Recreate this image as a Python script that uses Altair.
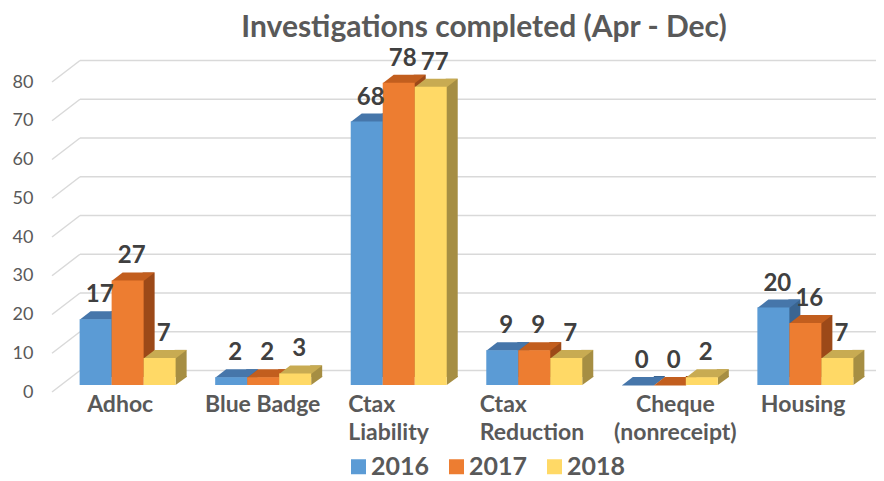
import json
import altair as alt
import pandas as pd

# ---------------- data ----------------
categories = ["Adhoc", "Blue Badge", "Ctax Liability", "Ctax Reduction",
              "Cheque (nonreceipt)", "Housing"]
years = ["2016", "2017", "2018"]
values_2016 = [17, 2, 68, 9, 0, 20]
values_2017 = [27, 2, 78, 9, 0, 16]
values_2018 = [7, 3, 77, 7, 2, 7]
y_ticks = [0, 10, 20, 30, 40, 50, 60, 70, 80]
wrapped_labels = ["Ctax Liability", "Ctax Reduction", "Cheque (nonreceipt)"]
centered_labels = ["Blue Badge", "Cheque (nonreceipt)"]

# ---------------- styles ----------------
front_colors = ["#5B9BD5", "#ED7D31", "#FFD966"]
top_colors = ["#4676AA", "#C25E1E", "#C8AB52"]
side_colors = ["#3A6591", "#9C4918", "#A68E43"]
GRID = "#D9D9D9"
TEXT = "#595959"
FONT = "Lato"
# horizontal nudge (px) of each category label from its band centre
label_nudge = {"Adhoc": -31, "Blue Badge": 9, "Ctax Liability": -41,
               "Ctax Reduction": -45, "Cheque (nonreceipt)": 15, "Housing": -35}

rows = []
for cat, a, b, c in zip(categories, values_2016, values_2017, values_2018):
    for yr, v in zip(years, (a, b, c)):
        rows.append({"category": cat, "year": yr, "value": v})
df = pd.DataFrame(rows)
grid_df = pd.DataFrame({"tick": y_ticks})

W, H = 810, 310
SUB = 32            # bar width in px (band is 3 * SUB)
SHIFT_X, SHIFT_Y = 9.5, -7      # bars sit a bit behind the front plane
DEPTH_X, DEPTH_Y = 11, -8       # bar depth
WALL_X, WALL_Y = 28, -21.5      # back wall depth

test_center = "indexof(%s, datum.value) >= 0" % json.dumps(centered_labels)
test_wrap = "indexof(%s, datum.value) >= 0" % json.dumps(wrapped_labels)

x_axis = alt.Axis(
    domain=False, ticks=False, grid=False, title=None, labelAngle=0,
    labelFont=FONT, labelFontSize=23, labelFontWeight="bold", labelColor=TEXT,
    labelPadding=1, labelLineHeight=28, labelBaseline="top",
    labelOverlap=False, labelLimit=300,
    labelExpr="%s ? split(datum.value, ' ') : datum.value" % test_wrap,
    labelAlign={"condition": {"test": test_center, "value": "center"}, "value": "left"},
    labelOffset={
        "condition": [{"test": "datum.value === %s" % json.dumps(k), "value": v}
                      for k, v in label_nudge.items()],
        "value": 0,
    },
)
y_axis = alt.Axis(
    values=y_ticks, tickCount=9, domain=False, ticks=False, grid=False, title=None,
    labelPadding=19, labelFont=FONT, labelFontSize=18, labelColor=TEXT,
    labelOverlap=False, labelSeparation=0, minExtent=44, maxExtent=44,
)

x_scale = alt.Scale(domain=categories, paddingInner=0.2915, paddingOuter=0.1336)
y_scale = alt.Scale(domain=[0, 80], nice=False)

x_enc = alt.X("category:N", scale=x_scale, axis=x_axis)
y_enc = alt.Y("value:Q", scale=y_scale, axis=y_axis)

grid_diag = alt.Chart(grid_df).mark_rule(
    color=GRID, strokeWidth=1.5, y2Offset=WALL_Y
).encode(
    x=alt.value(0), x2=alt.value(WALL_X),
    y=alt.Y("tick:Q", scale=y_scale, axis=y_axis), y2="tick:Q",
)

grid_back = alt.Chart(grid_df).mark_rule(
    color=GRID, strokeWidth=1.5, yOffset=WALL_Y
).encode(
    x=alt.value(WALL_X), x2=alt.value(W + 14),
    y=alt.Y("tick:Q", scale=y_scale, axis=y_axis),
)

legend = alt.Legend(
    orient="none", legendX=294, legendY=372, direction="horizontal", title=None,
    symbolType="square", symbolSize=225, symbolStrokeWidth=0, symbolOpacity=1,
    labelFont=FONT, labelFontSize=25, labelFontWeight="bold", labelColor=TEXT,
    labelOffset=0, columnPadding=14,
)

sides, bottoms, tops, fronts, labels = [], [], [], [], []
for i, yr in enumerate(years):
    base = alt.Chart(df).transform_filter(alt.datum.year == yr)
    left = -1.5 * SUB + i * SUB + SHIFT_X      # bar front-left, relative to band centre
    right = left + SUB
    sides.append(base.mark_bar(
        width=DEPTH_X + 1, color=side_colors[i],
        xOffset=right - 1 + (DEPTH_X + 1) / 2,
        yOffset=SHIFT_Y + DEPTH_Y, y2Offset=SHIFT_Y + DEPTH_Y,
    ).encode(x=x_enc, y=y_enc, y2=alt.datum(0)))
    bottoms.append(base.mark_point(
        shape="M0,-9L0,0L%g,%gL%g,-9Z" % (DEPTH_X, DEPTH_Y, DEPTH_X),
        size=4, filled=True, opacity=1, strokeWidth=0, color=side_colors[i],
        xOffset=right, yOffset=SHIFT_Y,
    ).encode(x=x_enc, y=alt.datum(0)))
    tops.append(base.mark_point(
        shape="M0,0.5L%g,0.5L%g,%gL%g,%gZ" % (SUB, SUB + DEPTH_X, DEPTH_Y, DEPTH_X, DEPTH_Y),
        size=4, filled=True, opacity=1, strokeWidth=0, color=top_colors[i],
        xOffset=left, yOffset=SHIFT_Y,
    ).encode(x=x_enc, y=y_enc))
    fronts.append(base.mark_bar(
        width=SUB, xOffset=left + SUB / 2, yOffset=SHIFT_Y, y2Offset=SHIFT_Y,
    ).encode(
        x=x_enc, y=y_enc, y2=alt.datum(0),
        color=alt.Color("year:N", scale=alt.Scale(domain=years, range=front_colors),
                        legend=legend),
    ))
    labels.append(base.mark_text(
        font=FONT, fontSize=24, fontWeight="bold", color="#404040",
        align="center", baseline="alphabetic",
        dx=left + SUB / 2 + 4, dy=SHIFT_Y - 17,
    ).encode(x=x_enc, y=y_enc, text="value:Q"))

chart = alt.layer(
    grid_diag, grid_back, *sides, *bottoms, *tops, *fronts, *labels
).properties(
    width=W, height=H,
    autosize=alt.AutoSizeParams(type="none"),
    padding={"left": 44, "top": 74, "right": 14, "bottom": 88},
    title=alt.TitleParams(
        "Investigations completed (Apr - Dec)", font=FONT, fontSize=30,
        fontWeight="bold", color=TEXT, anchor="middle", frame="group", dx=27, offset=4,
    ),
).configure_view(stroke=None).configure_axisY(labelOverlap=False)

chart.save("out.html", embed_options={"renderer": "svg", "actions": False})
